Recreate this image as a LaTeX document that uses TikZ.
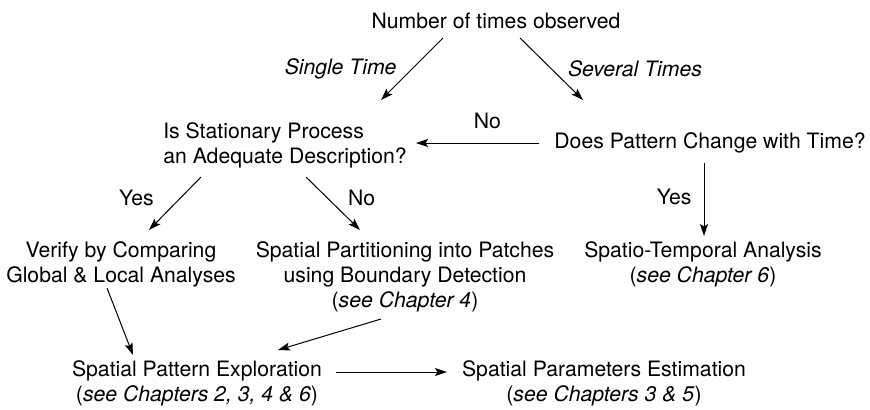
\documentclass[tikz,border=0pt]{standalone}
\usepackage{fontspec}
\setmainfont{TeX Gyre Heros}
\usetikzlibrary{arrows,arrows.meta}
\tikzstyle{basictext} = [inner sep=0pt, align=center]
\tikzstyle{edgelabel} = [inner sep=0pt]

\begin{document}
\begin{tikzpicture}[x=0.5pt, y=-0.5pt, >={Stealth[length=6pt,width=4pt,inset=1.2pt]}, line width=0.5pt, font=\fontsize{10.6}{12.5}\selectfont]
        \useasboundingbox (0,0) rectangle (870,409);
        \path[] node[basictext] (times) at (496,21) {Number of times observed};
        \path[] node[basictext,align=left] (stat) at (285,145) {Is Stationary Process\\an Adequate Description?};
        \path[] node[basictext] (change) at (710,143) {Does Pattern Change with Time?};
        \path[] node[basictext] (verify) at (121,264) {Verify by Comparing\\Global \& Local Analyses};
        \path[] node[basictext] (part) at (405,277) {Spatial Partitioning into Patches\\using Boundary Detection\\(\textit{see Chapter 4})};
        \path[] node[basictext] (spt) at (703,264) {Spatio-Temporal Analysis\\(\textit{see Chapter 6})};
        \path[] node[basictext] (explore) at (197,383) {Spatial Pattern Exploration\\(\textit{see Chapters 2, 3, 4 \& 6})};
        \path[] node[basictext] (estim) at (604,383) {Spatial Parameters Estimation\\(\textit{see Chapters 3 \& 5})};
        \path[->] ([shift={(-53,17)}]times.center) edge node[edgelabel,left=7.5pt] {\textit{Single Time}} ([shift={(96,-45)}]stat.center);
        \path[->] ([shift={(24,17)}]times.center) edge node[edgelabel,right=8pt] {\textit{Several Times}} ([shift={(-127,-43)}]change.center);
        \path[->] ([shift={(-171,0)}]change.center) edge node[edgelabel,pos=0.42,above=7pt] {No} ([shift={(131,-2)}]stat.center);
        \path[->] ([shift={(-84,32)}]stat.center) edge node[edgelabel,pos=0.4,left=13pt] {Yes} ([shift={(28,-34)}]verify.center);
        \path[->] ([shift={(21,32)}]stat.center) edge node[edgelabel,pos=0.4,right=10pt] {No} ([shift={(-45,-47)}]part.center);
        \path[->] ([shift={(-6,20)}]change.center) edge node[edgelabel,pos=0.47,left=6pt] {Yes} ([shift={(1,-28)}]spt.center);
        \path[->] ([shift={(-14,24)}]verify.center) edge ([shift={(-64,-28)}]explore.center);
        \path[->] ([shift={(-24,42)}]part.center) edge ([shift={(81,-33)}]explore.center);
        \path[->] ([shift={(139,-11)}]explore.center) edge ([shift={(-157,-11)}]estim.center);
      \end{tikzpicture}
\end{document}
